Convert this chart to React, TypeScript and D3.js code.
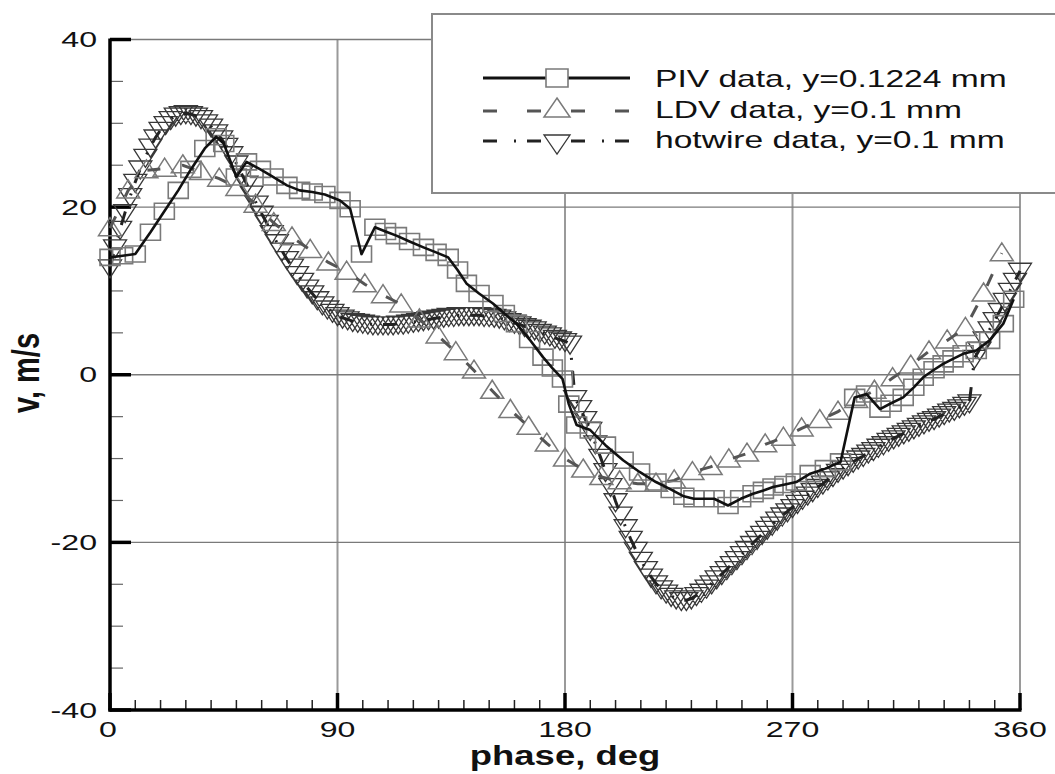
import React from "react";
import * as d3 from "d3";

// ---------- data ----------
const pivPhase = [0, 5, 10, 16, 21.5, 27, 32, 37.5, 42, 45, 50, 54, 59.5, 64.5, 70, 75, 80, 85, 91, 95, 99.5, 104.8, 109, 113.3, 118.5, 124, 129, 133.8, 137.5, 141, 146, 151.5, 156, 160.8, 166, 171.3, 175, 179, 181.5, 184.6, 190, 196, 203, 209.5, 216, 222, 227, 231, 235, 239, 244.5, 249.5, 254.4, 258.5, 262.3, 267, 271.5, 277, 283, 289, 294.6, 299.3, 304.6, 309, 313.8, 318, 321.7, 326, 329.6, 333.5, 337.5, 342.7, 348, 353.4, 357.5];
const pivV = [14.0, 14.2, 14.4, 17.0, 19.5, 22.0, 24.5, 27.0, 28.4, 27.6, 23.6, 25.4, 24.5, 23.6, 22.6, 22.0, 21.8, 21.5, 20.8, 19.8, 14.4, 17.6, 17.1, 16.6, 15.9, 15.2, 14.6, 14.0, 12.5, 10.9, 9.7, 8.5, 7.3, 6.1, 4.2, 2.1, 0.8, -0.5, -3.5, -6.0, -6.6, -8.4, -10.2, -11.6, -12.8, -13.7, -14.5, -14.8, -14.8, -14.8, -15.6, -14.8, -14.2, -13.8, -13.4, -13.1, -12.8, -11.8, -11.2, -10.4, -2.7, -2.3, -4.1, -3.4, -2.7, -1.5, -0.3, 0.6, 1.3, 1.9, 2.5, 2.9, 4.1, 6.1, 9.0];

const ldvPhase = [0, 7.2, 14.4, 21.6, 28.8, 36, 43.2, 50.4, 57.6, 64.8, 72, 79.2, 86.4, 93.6, 100.8, 108, 115.2, 122.4, 129.6, 136.8, 144, 151.2, 158.4, 165.6, 172.8, 180, 187.2, 194.4, 201.6, 208.8, 216, 223.2, 230.4, 237.6, 244.8, 252, 259.2, 266.4, 273.6, 280.8, 288, 295.2, 302.4, 309.6, 316.8, 324, 331.2, 338.4, 345.6, 352.8];
const ldvV = [17.5, 22.0, 24.4, 24.6, 25.0, 24.2, 23.4, 22.3, 20.3, 18.1, 16.4, 14.9, 13.4, 12.3, 10.8, 9.5, 8.4, 6.6, 4.7, 2.7, 0.5, -1.9, -4.2, -6.2, -8.2, -10.0, -11.3, -12.2, -12.7, -13.0, -13.0, -12.6, -11.6, -11.0, -10.1, -9.4, -8.3, -7.5, -6.4, -5.4, -4.4, -3.0, -1.9, -0.4, 1.1, 2.8, 4.1, 5.6, 9.7, 14.5];

const hwPhase = [
  0, 2, 4, 6, 8, 10, 12, 14, 16, 18,
  20, 22, 24, 26, 28, 30, 32, 34, 36, 38,
  40, 42, 44, 46, 48, 50, 52, 54, 56, 58,
  60, 62, 64, 66, 68, 70, 72, 74, 76, 78,
  80, 82, 84, 86, 88, 90, 92, 94, 96, 98,
  100, 102, 104, 106, 108, 110, 112, 114, 116, 118,
  120, 122, 124, 126, 128, 130, 132, 134, 136, 138,
  140, 142, 144, 146, 148, 150, 152, 154, 156, 158,
  160, 162, 164, 166, 168, 170, 172, 174, 176, 178,
  180, 182,
  184, 186, 188, 190, 192, 194, 196, 198, 200, 202,
  204, 206, 208, 210, 212, 214, 216, 218, 220, 222,
  224, 226, 228, 230, 232, 234, 236, 238, 240, 242,
  244, 246, 248, 250, 252, 254, 256, 258, 260, 262,
  264, 266, 268, 270, 272, 274, 276, 278, 280, 282,
  284, 286, 288, 290, 292, 294, 296, 298, 300, 302,
  304, 306, 308, 310, 312, 314, 316, 318, 320, 322,
  324, 326, 328, 330, 332, 334, 336, 338, 340,
  342, 344, 346, 348, 350, 352, 354, 356, 358, 360,
];
const hwV = [
  12.8, 15.2, 17.4, 19.4, 21.3, 23.0, 24.6, 26.0, 27.2, 28.3,
  29.2, 29.9, 30.5, 30.9, 31.1, 31.2, 31.1, 30.9, 30.6, 30.1,
  29.6, 28.9, 28.2, 27.3, 26.3, 25.2, 24.0, 22.8, 21.6, 20.4,
  19.2, 18.1, 16.9, 15.8, 14.8, 13.8, 12.9, 12.0, 11.2, 10.4,
  9.7, 9.0, 8.4, 7.9, 7.5, 7.1, 6.8, 6.6, 6.4, 6.3,
  6.2, 6.1, 6.0, 6.0, 6.0, 6.0, 6.0, 6.1, 6.1, 6.2,
  6.3, 6.4, 6.5, 6.6, 6.7, 6.8, 6.9, 7.0, 7.0, 7.1,
  7.1, 7.1, 7.1, 7.1, 7.0, 7.0, 6.9, 6.8, 6.6, 6.4,
  6.2, 6.0, 5.8, 5.6, 5.4, 5.1, 4.9, 4.7, 4.4, 4.2,
  4.0, 3.7,
  -2.8, -4.0, -5.3, -6.6, -8.2, -9.8, -11.5, -13.3, -15.1, -16.7,
  -18.2, -19.6, -20.9, -22.1, -23.2, -24.1, -24.9, -25.5, -26.0, -26.4,
  -26.7, -26.9, -26.9, -26.7, -26.3, -25.9, -25.4, -24.9, -24.3, -23.8,
  -23.2, -22.6, -22.0, -21.4, -20.8, -20.2, -19.6, -19.0, -18.4, -17.9,
  -17.3, -16.8, -16.3, -15.8, -15.3, -14.8, -14.3, -13.9, -13.4, -13.0,
  -12.5, -12.1, -11.6, -11.2, -10.8, -10.4, -10.0, -9.7, -9.3, -9.0,
  -8.6, -8.3, -7.9, -7.6, -7.3, -7.0, -6.7, -6.4, -6.1, -5.8,
  -5.5, -5.3, -5.0, -4.7, -4.4, -4.2, -3.9, -3.6, -3.3,
  2.0, 3.0, 4.2, 5.4, 6.5, 7.6, 8.8, 10.0, 11.2, 12.4,
];

const xTicks = [0, 90, 180, 270, 360];
const yTicks = [-40, -20, 0, 20, 40];
const xGrid = [90, 180, 270, 360];
const yGrid = [-20, 0, 20, 40];
const xMinor = d3.range(10, 360, 10).filter((v) => v % 90 !== 0);
const yMinor = d3.range(-35, 40, 5).filter((v) => v % 20 !== 0);
const legendLabels = ["PIV data, y=0.1224 mm", "LDV data, y=0.1 mm", "hotwire data, y=0.1 mm"];
const xTitle = "phase, deg";
const yTitle = "v, m/s";

// ---------- layout ----------
const W = 1055;
const H = 774;
const x = d3.scaleLinear().domain([0, 360]).range([110, 1020]);
const y = d3.scaleLinear().domain([-40, 40]).range([710, 39.5]);
const FONT = "'Liberation Sans', Arial, Helvetica, sans-serif";
const SX = 1.46;

type P = [number, number];
const zip = (a: number[], b: number[]): P[] => a.map((p, i) => [p, b[i]] as P);
const pivPts = zip(pivPhase, pivV);
const ldvPts = zip(ldvPhase, ldvV);
const hwPts = zip(hwPhase, hwV);

const lineGen = d3
  .line<P>()
  .x((d) => x(d[0]))
  .y((d) => y(d[1]));

const sq = (cx: number, cy: number, w = 20, h = 16) =>
  `M${cx - w / 2},${cy - h / 2}h${w}v${h}h${-w}Z`;
const triUp = (cx: number, cy: number, w = 23, h = 18) =>
  `M${cx},${cy - h * 0.58}L${cx + w / 2},${cy + h * 0.42}L${cx - w / 2},${cy + h * 0.42}Z`;
const triDown = (cx: number, cy: number, w = 23, h = 18) =>
  `M${cx},${cy + h * 0.58}L${cx + w / 2},${cy - h * 0.42}L${cx - w / 2},${cy - h * 0.42}Z`;

const markers = (pts: P[], f: (cx: number, cy: number) => string) =>
  pts.map((d) => f(x(d[0]), y(d[1]))).join("");

function SText(props: {
  x: number;
  y: number;
  anchor?: string;
  size: number;
  weight?: string | number;
  sx?: number;
  rotate?: number;
  children: React.ReactNode;
}) {
  const { x: tx, y: ty, anchor = "start", size, weight = "normal", sx = SX, rotate = 0, children } = props;
  return (
    <g transform={`translate(${tx},${ty}) scale(${sx},1)${rotate ? ` rotate(${rotate})` : ""}`}>
      <text
        x={0}
        y={0}
        textAnchor={anchor as any}
        fontFamily={FONT}
        fontSize={size}
        fontWeight={weight as any}
        fill="#111"
      >
        {children}
      </text>
    </g>
  );
}

export default function App() {
  const legY = [78, 111, 141];
  const legTextY = [87, 118, 148];
  const lx0 = 483;
  const lx1 = 630;
  const lm = 557;
  return (
    <div style={{ position: "absolute", left: 0, top: 0 }}>
      <svg width={W} height={H} viewBox={`0 0 ${W} ${H}`} style={{ display: "block", background: "#fff" }}>
        <rect x={0} y={0} width={W} height={H} fill="#fff" />
        {/* grid */}
        {xGrid.map((g) => (
          <line key={"gx" + g} x1={x(g)} x2={x(g)} y1={y(40)} y2={y(-40)} stroke="#9a9a9a" strokeWidth={2} />
        ))}
        {yGrid.map((g) => (
          <line key={"gy" + g} x1={x(0)} x2={x(360)} y1={y(g)} y2={y(g)} stroke="#7a7a7a" strokeWidth={1.3} />
        ))}
        {/* minor ticks */}
        {yMinor.map((t) => (
          <line key={"ym" + t} x1={x(0)} x2={x(0) + 13} y1={y(t)} y2={y(t)} stroke="#666" strokeWidth={1.2} />
        ))}
        {xMinor.map((t) => (
          <line key={"xm" + t} x1={x(t)} x2={x(t)} y1={y(-40)} y2={y(-40) - 10} stroke="#222" strokeWidth={1.5} />
        ))}
        {/* major ticks */}
        {yTicks.map((t) => (
          <line key={"yM" + t} x1={x(0)} x2={x(0) + 21} y1={y(t)} y2={y(t)} stroke="#000" strokeWidth={3.5} />
        ))}
        {xTicks.map((t) => (
          <line key={"xM" + t} x1={x(t)} x2={x(t)} y1={y(-40)} y2={y(-40) - 17} stroke="#000" strokeWidth={3.5} />
        ))}
        {/* axes */}
        <line x1={x(0)} x2={x(0)} y1={y(40) - 1} y2={y(-40) + 1.5} stroke="#000" strokeWidth={3.5} />
        <line x1={x(0) - 1.5} x2={x(360) + 1.5} y1={y(-40)} y2={y(-40)} stroke="#000" strokeWidth={3.5} />

        {/* hotwire */}
        <path d={markers(hwPts, triDown)} fill="none" stroke="#383838" strokeWidth={1.3} />
        <path d={lineGen(hwPts) || ""} fill="none" stroke="#222" strokeWidth={3} strokeDasharray="14 17 2 11" />
        {/* LDV */}
        <path d={markers(ldvPts, triUp)} fill="none" stroke="#7a7a7a" strokeWidth={1.5} />
        <path d={lineGen(ldvPts) || ""} fill="none" stroke="#555" strokeWidth={3} strokeDasharray="13 22" />
        {/* PIV */}
        <path d={markers(pivPts, sq)} fill="none" stroke="#7a7a7a" strokeWidth={1.6} />
        <path d={lineGen(pivPts) || ""} fill="none" stroke="#111" strokeWidth={2.6} strokeLinejoin="round" />

        {/* tick labels */}
        {yTicks.map((t) => (
          <SText key={"yl" + t} x={97} y={y(t) + 7.5} anchor="end" size={22}>
            {String(t)}
          </SText>
        ))}
        {xTicks.map((t) => (
          <SText key={"xl" + t} x={x(t) - (t === 0 ? 2 : 0)} y={737} anchor="middle" size={22}>
            {String(t)}
          </SText>
        ))}
        {/* axis titles */}
        <SText x={565} y={765} anchor="middle" size={27} weight="bold" sx={1.35}>
          {xTitle}
        </SText>
        <SText x={38.5} y={373} anchor="middle" size={29} weight="bold" sx={1.35} rotate={-90}>
          {yTitle}
        </SText>

        {/* legend */}
        <rect x={432} y={14} width={700} height={179} fill="#fff" stroke="#8a8a8a" strokeWidth={2} />
        <line x1={lx0} x2={lx1} y1={legY[0]} y2={legY[0]} stroke="#111" strokeWidth={3} />
        <path d={sq(lm, legY[0], 22, 18)} fill="#fff" stroke="#7a7a7a" strokeWidth={1.6} />
        <line x1={lx0} x2={lx1} y1={legY[1]} y2={legY[1]} stroke="#555" strokeWidth={3} strokeDasharray="14 30" />
        <path d={triUp(lm, legY[1] - 2, 26, 19)} fill="#fff" stroke="#7a7a7a" strokeWidth={1.5} />
        <line x1={lx0} x2={lx1} y1={legY[2]} y2={legY[2]} stroke="#222" strokeWidth={3} strokeDasharray="14 17 2 11" />
        <path d={triDown(lm, legY[2] + 2, 26, 19)} fill="#fff" stroke="#383838" strokeWidth={1.3} />
        {legendLabels.map((l, i) => (
          <SText key={"lg" + i} x={655} y={legTextY[i]} size={23}>
            {l}
          </SText>
        ))}
      </svg>
    </div>
  );
}
